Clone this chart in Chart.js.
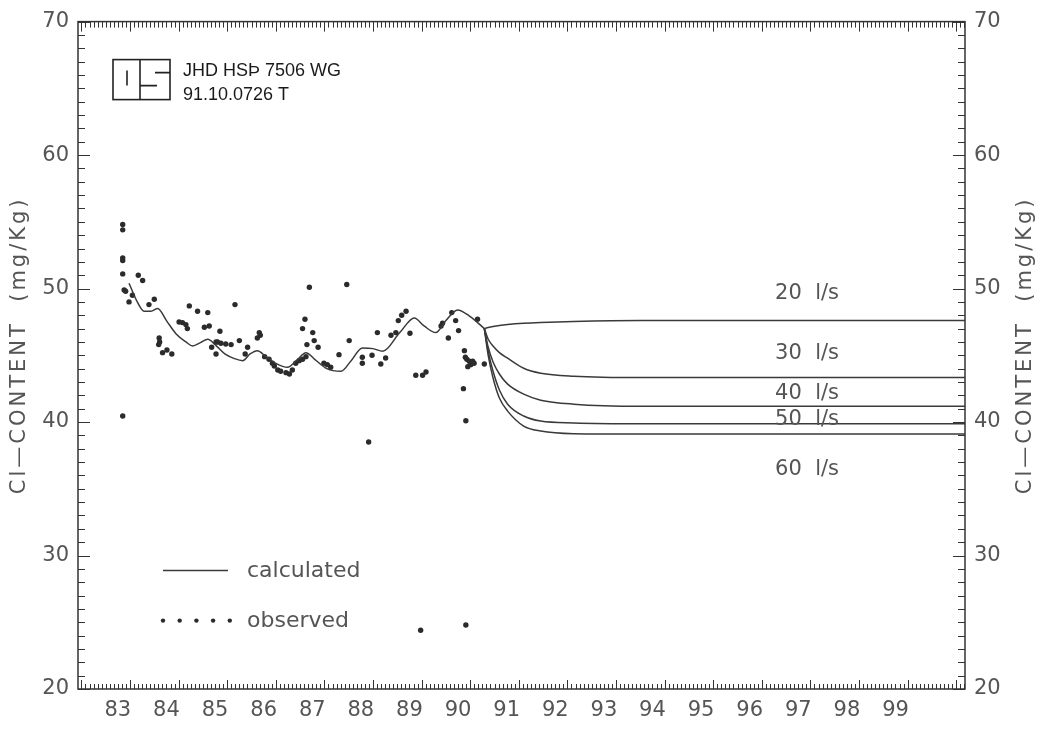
<!DOCTYPE html>
<html>
<head>
<meta charset="utf-8">
<title>Cl-content, calculated and observed</title>
<script src="https://cdn.jsdelivr.net/npm/chart.js@4.4.0/dist/chart.umd.min.js"></script>
<style>
  html, body { margin: 0; padding: 0; background: #fff; }
  #wrap { width: 1042px; height: 733px; position: relative; }
</style>
</head>
<body>
<div id="wrap"><canvas id="myChart"></canvas></div>
<script>
'use strict';

/* Data: x in years (19xx), y in mg/Kg */
const yearTicks = [83, 84, 85, 86, 87, 88, 89, 90, 91, 92, 93, 94, 95, 96, 97, 98, 99];
const clTicks = [20, 30, 40, 50, 60, 70];

// calculated history
const calcYears = [83.23, 83.40, 83.54, 83.68, 83.82, 84.00, 84.20, 84.40, 84.54, 84.70, 84.85, 85.00, 85.20,
    85.40, 85.57, 85.72, 85.87, 86.05, 86.25, 86.49, 86.70, 86.87, 87.05, 87.30, 87.59, 87.80, 88.03,
    88.25, 88.45, 88.80, 89.10, 89.30, 89.54, 89.75, 89.99, 90.25, 90.54];
const calcCl = [50.4, 49.0, 48.3, 48.3, 48.5, 47.6, 46.6, 46.0, 45.7, 45.95, 46.2, 45.8, 45.1,
    44.75, 44.6, 45.1, 45.35, 44.9, 44.4, 44.1, 44.7, 45.2, 44.7, 44.0, 43.8, 44.6, 45.55,
    45.5, 45.3, 46.7, 47.8, 47.2, 46.7, 47.6, 48.4, 47.9, 47.0];

// predictions for different production rates
const predYears = [90.54, 90.62, 90.72, 90.85, 91.02, 91.35, 91.70, 92.38, 93.76, 100.43];
const pred20 = [47.0, 47.08, 47.16, 47.24, 47.31, 47.40, 47.46, 47.54, 47.61, 47.61];
const pred30 = [47.0, 46.2, 45.7, 45.2, 44.78, 44.03, 43.66, 43.43, 43.33, 43.33];
const pred40 = [47.0, 45.6, 44.5, 43.6, 42.84, 42.09, 41.64, 41.34, 41.19, 41.19];
const pred50 = [47.0, 45.3, 43.8, 42.4, 41.34, 40.45, 40.07, 39.93, 39.87, 39.87];
const pred60 = [47.0, 45.0, 43.3, 41.8, 40.82, 39.70, 39.33, 39.13, 39.10, 39.10];
const predNames = ['20  l/s', '30  l/s', '40  l/s', '50  l/s', '60  l/s'];

// observed
const obsYears = [83.10, 83.10, 83.10, 83.10, 83.10, 83.42, 83.51, 83.13, 83.16, 83.30, 83.23, 83.64, 83.75,
    84.47, 84.64, 84.85, 85.41, 86.94, 83.85, 83.86, 83.84, 83.92, 84.01, 84.11, 84.26, 84.33, 84.40,
    84.43, 84.78, 84.88, 85.10, 85.02, 85.05, 85.12, 85.22, 85.33, 84.93, 85.02, 85.50, 85.67, 85.62,
    85.91, 85.87, 85.93, 86.02, 86.11, 86.18, 86.22, 86.29, 86.35, 86.46, 86.53, 86.59, 86.66, 86.73,
    86.80, 86.87, 86.85, 86.80, 87.01, 87.04, 86.89, 87.12, 87.24, 87.31, 87.38, 87.55, 83.10, 87.71,
    87.76, 88.03, 88.03, 88.23, 88.41, 88.51, 88.34, 88.62, 88.72, 89.01, 88.77, 88.84, 88.93, 89.13,
    89.27, 89.34, 88.16, 89.65, 89.68, 89.80, 89.87, 89.95, 90.01, 90.40, 90.54, 90.13, 90.15, 90.18,
    90.23, 90.26, 90.30, 90.33, 90.20, 90.11, 90.16, 89.23, 90.16];
const obsCl = [54.8, 54.4, 52.3, 52.1, 51.1, 51.0, 50.6, 49.9, 49.8, 49.5, 49.0, 48.8, 49.2,
    48.7, 48.3, 48.2, 48.8, 50.1, 46.3, 46.0, 45.8, 45.2, 45.4, 45.1, 47.5, 47.45, 47.3,
    47.0, 47.1, 47.2, 46.8, 46.0, 46.0, 45.9, 45.85, 45.8, 45.6, 45.1, 46.1, 45.6, 45.1,
    46.7, 46.3, 46.5, 44.9, 44.7, 44.4, 44.2, 43.9, 43.8, 43.7, 43.6, 43.9, 44.4, 44.6,
    44.7, 44.9, 47.7, 47.0, 46.7, 46.1, 45.8, 45.6, 44.4, 44.3, 44.1, 45.05, 40.45, 50.3,
    46.1, 44.85, 44.4, 45.0, 44.35, 44.8, 46.7, 46.5, 46.7, 46.65, 47.6, 48.0, 48.3, 43.5,
    43.5, 43.75, 38.5, 47.2, 47.4, 46.3, 48.2, 47.6, 46.85, 47.7, 44.35, 45.35, 44.85, 44.7,
    44.55, 44.3, 44.55, 44.4, 44.15, 42.5, 40.1, 24.4, 24.8];

/* styles */
const INK = '#3a3a3a';
const GREY_TEXT = '#555';
const FONT = 'DejaVu Sans';
const predLabelYear = 97.18;
const predLabelShift = [-27, -24, -13, -4, 35]; // px from the flat end of each curve

function toPoints(xs, ys) {
    return xs.map((x, i) => ({ x: x, y: ys[i] }));
}

const lineStyle = {
    showLine: true,
    borderColor: INK,
    borderWidth: 1.5,
    pointRadius: 0,
    cubicInterpolationMode: 'monotone',
    fill: false
};

const datasets = [
    Object.assign({ label: 'calculated', data: toPoints(calcYears, calcCl) }, lineStyle),
    Object.assign({ label: predNames[0], data: toPoints(predYears, pred20) }, lineStyle),
    Object.assign({ label: predNames[1], data: toPoints(predYears, pred30) }, lineStyle),
    Object.assign({ label: predNames[2], data: toPoints(predYears, pred40) }, lineStyle),
    Object.assign({ label: predNames[3], data: toPoints(predYears, pred50) }, lineStyle),
    Object.assign({ label: predNames[4], data: toPoints(predYears, pred60) }, lineStyle),
    {
        label: 'observed',
        data: toPoints(obsYears, obsCl),
        showLine: false,
        pointRadius: 2.7,
        pointBackgroundColor: '#2b2b2b',
        pointBorderWidth: 0
    }
];

/* frame, inward ticks, logo, legend and labels */
const decorations = {
    id: 'decorations',
    afterDatasetsDraw(chart) {
        const ctx = chart.ctx;
        const a = chart.chartArea;
        const xs = chart.scales.x;
        const ys = chart.scales.y;
        ctx.save();

        // frame
        ctx.strokeStyle = '#333';
        ctx.lineWidth = 1.5;
        ctx.strokeRect(a.left, a.top, a.right - a.left, a.bottom - a.top);

        // monthly ticks on bottom and top
        ctx.lineWidth = 1;
        ctx.beginPath();
        for (let m = Math.ceil(xs.min * 12); m <= Math.floor(xs.max * 12); m++) {
            const px = Math.round(xs.getPixelForValue(m / 12)) + 0.5;
            const major = ((m - 3) % 12) === 0;
            const len = major ? 9 : 5;
            ctx.moveTo(px, a.bottom);
            ctx.lineTo(px, a.bottom - len);
            ctx.moveTo(px, a.top);
            ctx.lineTo(px, a.top + len + 1);
        }
        // unit ticks on left and right
        for (let v = ys.min; v <= ys.max; v++) {
            const py = Math.round(ys.getPixelForValue(v)) + 0.5;
            const len = v % 10 === 0 ? 12 : 7;
            ctx.moveTo(a.left, py);
            ctx.lineTo(a.left + len, py);
            ctx.moveTo(a.right, py);
            ctx.lineTo(a.right - len, py);
        }
        ctx.stroke();

        // logo box
        const lx = a.left + 35, ly = a.top + 38;
        ctx.lineWidth = 1.6;
        ctx.strokeStyle = '#222';
        ctx.strokeRect(lx, ly, 57, 40);
        ctx.beginPath();
        ctx.moveTo(lx + 27, ly); ctx.lineTo(lx + 27, ly + 40);
        ctx.moveTo(lx + 14, ly + 11); ctx.lineTo(lx + 14, ly + 26);
        ctx.moveTo(lx + 42, ly + 13); ctx.lineTo(lx + 57, ly + 13);
        ctx.moveTo(lx + 27, ly + 26); ctx.lineTo(lx + 44, ly + 26);
        ctx.stroke();
        ctx.fillStyle = '#1a1a1a';
        ctx.font = '18px "Liberation Sans"';
        ctx.textAlign = 'left';
        ctx.textBaseline = 'middle';
        ctx.fillText('JHD HSÞ 7506 WG', lx + 70, ly + 11);
        ctx.fillText('91.10.0726 T', lx + 70, ly + 35);

        // legend
        ctx.strokeStyle = INK;
        ctx.lineWidth = 1.5;
        ctx.beginPath();
        ctx.moveTo(a.left + 85, a.top + 549);
        ctx.lineTo(a.left + 150, a.top + 549);
        ctx.stroke();
        ctx.fillStyle = '#2b2b2b';
        for (let i = 0; i < 5; i++) {
            ctx.beginPath();
            ctx.arc(a.left + 85 + i * 16.7, a.top + 599, 2.2, 0, Math.PI * 2);
            ctx.fill();
        }
        ctx.fillStyle = GREY_TEXT;
        ctx.font = '22px "' + FONT + '"';
        ctx.fillText('calculated', a.left + 169, a.top + 550);
        ctx.fillText('observed', a.left + 169, a.top + 600);

        // curve labels
        const ends = [pred20, pred30, pred40, pred50, pred60];
        ctx.font = '21px "' + FONT + '"';
        ctx.textAlign = 'center';
        const lxp = xs.getPixelForValue(predLabelYear);
        ends.forEach((vals, i) => {
            const py = ys.getPixelForValue(vals[vals.length - 1]) + predLabelShift[i];
            ctx.fillText(predNames[i], lxp, py);
        });

        // axis titles, both read bottom to top
        const midY = (a.top + a.bottom) / 2 - 10;
        ctx.font = '21px "' + FONT + '"';
        try { ctx.letterSpacing = '3px'; } catch (e) { /* ignore */ }
        [20, chart.width - 16].forEach(cx => {
            ctx.save();
            ctx.translate(cx, midY);
            ctx.rotate(-Math.PI / 2);
            ctx.fillText('Cl\u2014CONTENT  (mg/Kg)', 0, 0);
            ctx.restore();
        });
        ctx.restore();
    }
};

const tickFont = { family: FONT, size: 21 };

const config = {
    type: 'scatter',
    data: { datasets: datasets },
    options: {
        responsive: true,
        maintainAspectRatio: false,
        animation: false,
        devicePixelRatio: 1,
        layout: { padding: { top: 19, left: 0, right: 0, bottom: 0 } },
        plugins: {
            legend: { display: false },
            tooltip: { enabled: false }
        },
        scales: {
            x: {
                type: 'linear',
                min: 82.18,
                max: 100.43,
                grid: { display: false, drawTicks: false },
                border: { display: false },
                afterBuildTicks: s => { s.ticks = yearTicks.map(v => ({ value: v })); },
                afterFit: s => { s.height = 44; },
                ticks: { font: tickFont, color: GREY_TEXT, padding: 9, autoSkip: false, maxRotation: 0 }
            },
            y: {
                position: 'left',
                min: 20,
                max: 70,
                grid: { display: false, drawTicks: false },
                border: { display: false },
                afterBuildTicks: s => { s.ticks = clTicks.map(v => ({ value: v })); },
                afterFit: s => { s.width = 78; },
                ticks: { font: tickFont, color: GREY_TEXT, padding: 9 }
            },
            y2: {
                position: 'right',
                min: 20,
                max: 70,
                grid: { display: false, drawTicks: false },
                border: { display: false },
                afterBuildTicks: s => { s.ticks = clTicks.map(v => ({ value: v })); },
                afterFit: s => { s.width = 77; },
                ticks: { font: tickFont, color: GREY_TEXT, padding: 9 }
            }
        }
    },
    plugins: [decorations]
};

const myChart = new Chart(document.getElementById('myChart'), config);
</script>
</body>
</html>
